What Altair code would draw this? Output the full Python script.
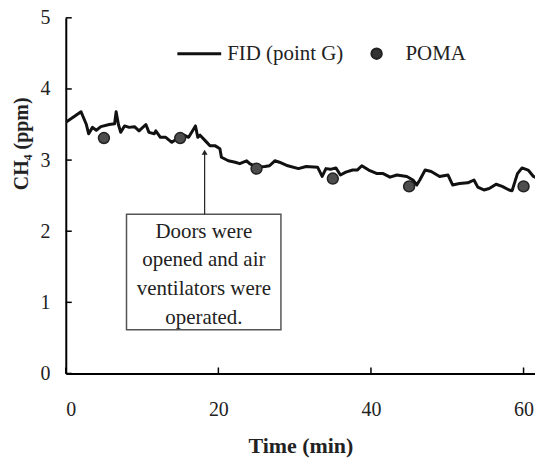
import altair as alt
import pandas as pd

# FID (point G) continuous trace
fid_time = [0.0, 1.2, 2.0, 2.7, 3.0, 3.5, 4.0, 4.6, 5.7, 6.4, 6.6, 6.9, 7.2, 7.7, 8.3, 9.0,
            9.6, 10.5, 10.9, 11.6, 11.8, 12.4, 13.1, 13.9, 14.6, 15.5, 16.1, 16.5, 17.0, 17.3,
            17.6, 18.3, 18.9, 19.6, 20.2, 20.4, 21.3, 22.2, 22.8, 23.7, 24.1, 25.0, 26.1, 26.7,
            27.4, 28.0, 29.1, 30.5, 31.5, 33.0, 33.6, 34.1, 34.7, 35.4, 36.0, 36.7, 37.6, 38.2,
            38.8, 39.7, 40.8, 41.6, 42.5, 43.4, 44.7, 45.5, 46.0, 46.4, 47.1, 47.9, 49.0, 50.1,
            50.7, 51.6, 52.7, 53.5, 54.0, 54.8, 55.5, 56.4, 57.2, 58.1, 58.5, 59.2, 59.8, 60.6,
            61.3, 61.9]
fid_ch4 = [3.53, 3.62, 3.68, 3.50, 3.37, 3.46, 3.42, 3.47, 3.50, 3.51, 3.68, 3.50, 3.39, 3.48,
           3.46, 3.47, 3.41, 3.50, 3.39, 3.37, 3.41, 3.32, 3.32, 3.25, 3.30, 3.35, 3.32, 3.39,
           3.48, 3.32, 3.35, 3.27, 3.20, 3.20, 3.16, 3.04, 2.99, 2.97, 2.95, 2.99, 2.95, 2.90,
           2.91, 2.92, 2.99, 2.97, 2.92, 2.88, 2.91, 2.90, 2.77, 2.88, 2.87, 2.89, 2.79, 2.83,
           2.86, 2.86, 2.92, 2.86, 2.81, 2.81, 2.76, 2.79, 2.77, 2.72, 2.65, 2.72, 2.86, 2.84,
           2.77, 2.79, 2.65, 2.67, 2.68, 2.72, 2.62, 2.58, 2.60, 2.66, 2.63, 2.58, 2.57, 2.81,
           2.89, 2.86, 2.77, 2.74]

# POMA discrete measurements
poma_time = [5, 15, 25, 35, 45, 60]
poma_ch4 = [3.31, 3.31, 2.88, 2.74, 2.63, 2.63]

x_ticks = [0, 20, 40, 60]
y_ticks = [0, 1, 2, 3, 4, 5]

legend_labels = ["FID (point G)", "POMA"]
note_lines = ["Doors were", "opened and air", "ventilators were", "operated."]

W, H = 471, 357
FONT = "Times"

fid_df = pd.DataFrame({"t": fid_time, "c": fid_ch4})
poma_df = pd.DataFrame({"t": poma_time, "c": poma_ch4})

xs = alt.Scale(domain=[0, 61.5], nice=False, zero=False)
ys = alt.Scale(domain=[0, 5], nice=False)

xax = alt.Axis(values=x_ticks, title="Time (min)", ticks=False, labelPadding=26,
               titlePadding=16, format="d", labelFont=FONT, titleFont=FONT,
               labelFontSize=20, titleFontSize=22, titleFontWeight="bold",
               labelColor="#222", titleColor="#222", grid=False,
               domainColor="black", domainWidth=2)
yax = alt.Axis(values=y_ticks, title="CH\u2084 (ppm)", ticks=False, labelPadding=16,
               titleX=-34, titleY=126, format="d", labelFont=FONT, titleFont=FONT,
               labelFontSize=20, titleFontSize=20, titleFontWeight="bold",
               labelColor="#222", titleColor="#222", grid=False,
               domainColor="black", domainWidth=2)

line = alt.Chart(fid_df).mark_line(color="#111", strokeWidth=3, clip=True,
                                   strokeJoin="round").encode(
    x=alt.X("t:Q", scale=xs, axis=xax),
    y=alt.Y("c:Q", scale=ys, axis=yax),
)

pts = alt.Chart(poma_df).mark_point(filled=True, size=120, fill="#4d4d4d",
                                    stroke="#222", strokeWidth=1.5, opacity=1).encode(
    x=alt.X("t:Q", scale=xs), y=alt.Y("c:Q", scale=ys))

xt = alt.Chart(pd.DataFrame({"v": x_ticks})).mark_rule(color="black", strokeWidth=1.5).encode(
    x=alt.X("v:Q", scale=xs), y=alt.value(H), y2=alt.value(H - 6))
yt = alt.Chart(pd.DataFrame({"v": y_ticks})).mark_rule(color="black", strokeWidth=1.5).encode(
    y=alt.Y("v:Q", scale=ys), x=alt.value(0), x2=alt.value(6))

# annotation box + arrow
box_df = pd.DataFrame({"x": [7.96], "x2": [28.2], "y": [0.616], "y2": [2.24]})
box = alt.Chart(box_df).mark_rect(fill="white", stroke="#555", strokeWidth=1.5).encode(
    x=alt.X("x:Q", scale=xs), x2="x2", y=alt.Y("y:Q", scale=ys), y2="y2")
arrow_df = pd.DataFrame({"x": [18.2], "y": [2.24], "y2": [3.1]})
arrow = alt.Chart(arrow_df).mark_rule(color="#222", strokeWidth=1.2).encode(
    x=alt.X("x:Q", scale=xs), y=alt.Y("y:Q", scale=ys), y2="y2")
head = alt.Chart(pd.DataFrame({"x": [18.2], "y": [3.11]})).mark_point(
    shape="triangle-up", size=35, filled=True, color="#222", opacity=1).encode(
    x=alt.X("x:Q", scale=xs), y=alt.Y("y:Q", scale=ys))
note = alt.Chart(pd.DataFrame({"x": [18.1], "y": [1.99]})).mark_text(
    text=note_lines, font=FONT, fontSize=21, lineHeight=28.7, align="center",
    baseline="middle", color="#222").encode(
    x=alt.X("x:Q", scale=xs), y=alt.Y("y:Q", scale=ys))

# legend
leg_line = alt.Chart(pd.DataFrame({"a": [0]})).mark_rule(color="#111", strokeWidth=3).encode(
    x=alt.value(112), x2=alt.value(156), y=alt.value(36))
leg_t1 = alt.Chart(pd.DataFrame({"a": [0]})).mark_text(
    text=legend_labels[0], font=FONT, fontSize=21, align="left", baseline="middle",
    color="#222").encode(x=alt.value(162), y=alt.value(36))
leg_pt = alt.Chart(pd.DataFrame({"a": [0]})).mark_point(
    filled=True, size=110, fill="#333", stroke="#222", opacity=1).encode(
    x=alt.value(312), y=alt.value(36))
leg_t2 = alt.Chart(pd.DataFrame({"a": [0]})).mark_text(
    text=legend_labels[1], font=FONT, fontSize=21, align="left", baseline="middle",
    color="#222").encode(x=alt.value(341), y=alt.value(36))

chart = alt.layer(line, pts, xt, yt, box, arrow, head, note,
                  leg_line, leg_t1, leg_pt, leg_t2).properties(
    width=W, height=H,
    autosize=alt.AutoSizeParams(type="none"),
    padding={"left": 58, "top": 9, "right": 0, "bottom": 88},
).configure(font=FONT).configure_view(stroke=None)

chart.save("out.html", embed_options={"renderer": "svg", "actions": False})
